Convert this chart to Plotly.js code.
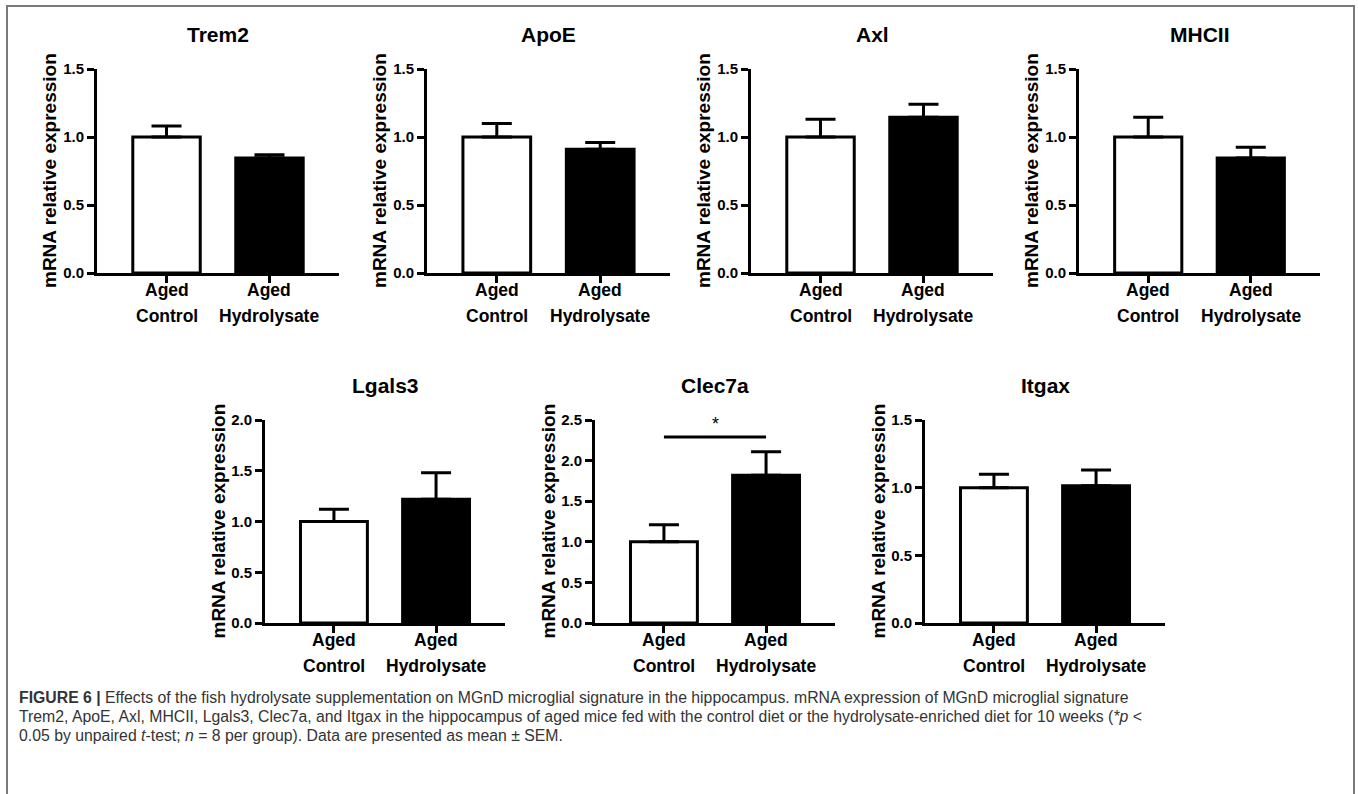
<!DOCTYPE html>
<html>
<head>
<meta charset="utf-8">
<script src="https://cdn.plot.ly/plotly-3.0.1.min.js"></script>
<style>html,body{margin:0;padding:0;background:#fff;}#chart{width:1358px;height:794px;}</style>
</head>
<body>
<div id="chart"></div>
<script>
// ---- data ----
const genes = ['Trem2', 'ApoE', 'Axl', 'MHCII', 'Lgals3', 'Clec7a', 'Itgax'];
const groupLine1 = ['Aged', 'Aged'];
const groupLine2 = ['Control', 'Hydrolysate'];
const controlMean = [1.00, 1.00, 1.00, 1.00, 1.00, 1.00, 1.00];
const controlSEM = [0.08, 0.10, 0.13, 0.145, 0.12, 0.21, 0.10];
const hydroMean = [0.845, 0.91, 1.145, 0.845, 1.22, 1.82, 1.015];
const hydroSEM = [0.025, 0.05, 0.095, 0.08, 0.26, 0.29, 0.115];
const yMax = [1.5, 1.5, 1.5, 1.5, 2.0, 2.5, 1.5];
const yStep = [0.5, 0.5, 0.5, 0.5, 0.5, 0.5, 0.5];
const sigGene = 'Clec7a';
const sigLevel = [2.29];
const sigLabel = ['*'];
const yTitle = 'mRNA relative expression';

// ---- layout geometry (pixels) ----
const W = 1358, H = 794;
const panelX = [[97, 339], [427, 670], [751, 993], [1079, 1320], [265, 505], [595, 835], [925, 1165]];
const rowY = [[69, 273], [69, 273], [69, 273], [69, 273], [420, 623], [420, 623], [420, 623]];

const SANS = '"Liberation Sans", Arial, Helvetica, sans-serif';

const px = v => v / W;
const py = v => 1 - v / H;

const traces = [];
const layout = {
  width: W, height: H,
  margin: {l: 0, r: 0, t: 0, b: 0},
  paper_bgcolor: '#fff', plot_bgcolor: 'rgba(0,0,0,0)',
  showlegend: false,
  annotations: [], shapes: []
};

genes.forEach((g, i) => {
  const n = i + 1;
  const xa = n === 1 ? 'x' : 'x' + n;
  const ya = n === 1 ? 'y' : 'y' + n;
  traces.push({
    type: 'bar', x: [0, 1], y: [controlMean[i], hydroMean[i]],
    xaxis: xa, yaxis: ya, width: 0.655,
    marker: {color: ['#ffffff', '#000000'], line: {color: '#000', width: 3}},
    error_y: {type: 'data', symmetric: false, array: [controlSEM[i], hydroSEM[i]], arrayminus: [0, 0],
      color: '#000', thickness: 3, width: 15},
    hoverinfo: 'skip', cliponaxis: false
  });
  const [x0, x1] = panelX[i];
  const [y0, y1] = rowY[i];
  const tv = [];
  for (let v = 0; v <= yMax[i] + 1e-9; v += yStep[i]) tv.push(+v.toFixed(2));
  layout['xaxis' + (n === 1 ? '' : n)] = {
    domain: [px(x0), px(x1)], anchor: ya, range: [-0.675, 1.675],
    tickvals: [0, 1], showticklabels: false, showgrid: false, zeroline: false,
    showline: true, linecolor: '#000', linewidth: 3,
    ticks: 'outside', ticklen: 7, tickwidth: 3, tickcolor: '#000', fixedrange: true
  };
  layout['yaxis' + (n === 1 ? '' : n)] = {
    domain: [py(y1), py(y0)], anchor: xa, range: [0, yMax[i]],
    tickvals: tv, tickformat: '.1f', showgrid: false, zeroline: false,
    showline: true, linecolor: '#000', linewidth: 3,
    ticks: 'outside', ticklen: 7, tickwidth: 3, tickcolor: '#000',
    tickfont: {family: SANS, size: 15, color: '#000', weight: 'bold'}, fixedrange: true
  };
  // category labels (two lines) placed on the category positions of the x axis
  [0, 1].forEach(c => {
    layout.annotations.push({xref: xa, yref: 'paper', x: c, y: py(y1 + 17), text: groupLine1[c],
      showarrow: false, xanchor: 'center', yanchor: 'middle',
      font: {family: SANS, size: 17.5, color: '#000', weight: 'bold'}});
    layout.annotations.push({xref: xa, yref: 'paper', x: c, y: py(y1 + 43), text: groupLine2[c],
      showarrow: false, xanchor: 'center', yanchor: 'middle',
      font: {family: SANS, size: 17.5, color: '#000', weight: 'bold'}});
  });
  // panel title
  layout.annotations.push({
    xref: 'paper', yref: 'paper', x: px((x0 + x1) / 2), y: py(y0 - 35),
    text: g, showarrow: false, xanchor: 'center', yanchor: 'middle',
    font: {family: SANS, size: 21, color: '#000', weight: 'bold'}
  });
  // y axis title
  layout.annotations.push({
    xref: 'paper', yref: 'paper', x: px(x0 - 47), y: py((y0 + y1) / 2),
    text: yTitle, textangle: -90, showarrow: false, xanchor: 'center', yanchor: 'middle',
    font: {family: SANS, size: 19, color: '#000', weight: 'bold'}
  });
  if (g === sigGene) {
    layout.shapes.push({type: 'line', xref: xa, yref: ya, x0: 0, x1: 1, y0: sigLevel[0], y1: sigLevel[0],
      line: {color: '#000', width: 3}});
    layout.annotations.push({xref: xa, yref: ya, x: 0.5, y: sigLevel[0], yshift: 1, text: sigLabel[0],
      showarrow: false, yanchor: 'bottom', font: {family: SANS, size: 18, color: '#000'}});
  }
});

// figure frame
layout.shapes.push({type: 'path', xref: 'paper', yref: 'paper',
  path: `M ${px(7)} 0 L ${px(7)} ${py(6)} L ${px(1354)} ${py(6)} L ${px(1354)} 0`,
  line: {color: '#7a7a7a', width: 2}});

// caption
const capLines = [
  '<b>FIGURE 6 |</b> Effects of the fish hydrolysate supplementation on MGnD microglial signature in the hippocampus. mRNA expression of MGnD microglial signature',
  'Trem2, ApoE, Axl, MHCII, Lgals3, Clec7a, and Itgax in the hippocampus of aged mice fed with the control diet or the hydrolysate-enriched diet for 10 weeks (<i>*p</i> &lt;',
  '0.05 by unpaired <i>t</i>-test; <i>n</i> = 8 per group). Data are presented as mean ± SEM.'
];
const capY = [697, 716, 735];
capLines.forEach((t, k) => {
  layout.annotations.push({xref: 'paper', yref: 'paper', x: px(17), y: py(capY[k]), text: t,
    showarrow: false, xanchor: 'left', yanchor: 'middle', align: 'left',
    font: {family: SANS, size: 15.8, color: '#333'}});
});

Plotly.newPlot('chart', traces, layout, {displayModeBar: false, staticPlot: true});
</script>
</body>
</html>
